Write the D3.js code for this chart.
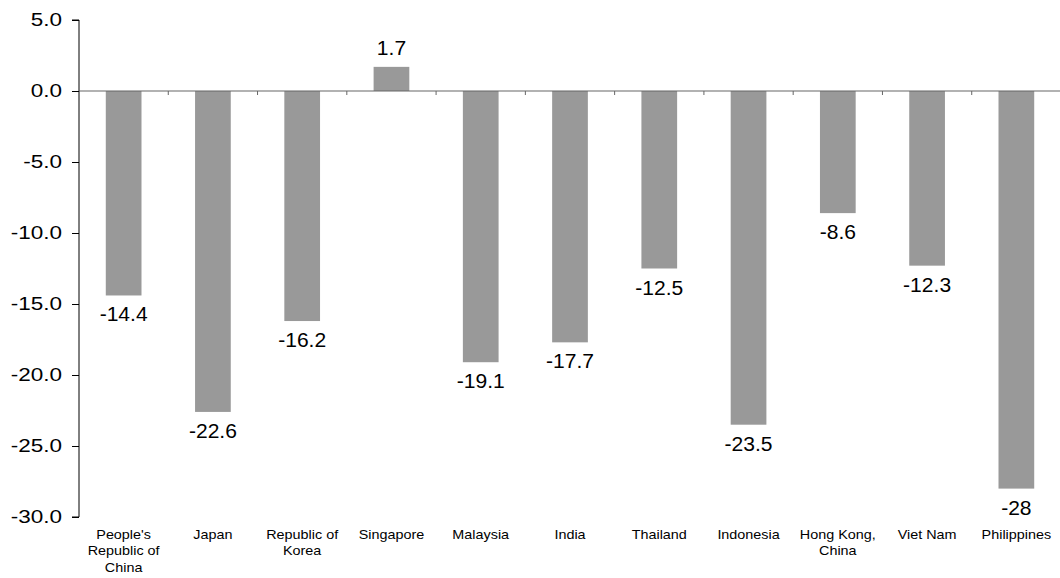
<!DOCTYPE html>
<html><head><meta charset="utf-8">
<script src="https://cdn.jsdelivr.net/npm/d3@7"></script>
<style>body{margin:0;background:#fff}svg{display:block}text{font-family:"Liberation Sans",Arial,sans-serif}</style>
</head><body>
<svg id="c" width="1060" height="578"></svg>
<script>
const categories = [["People's","Republic of","China"],["Japan"],["Republic of","Korea"],["Singapore"],["Malaysia"],["India"],["Thailand"],["Indonesia"],["Hong Kong,","China"],["Viet Nam"],["Philippines"]];
const values = [-14.4,-22.6,-16.2,1.7,-19.1,-17.7,-12.5,-23.5,-8.6,-12.3,-28];
const valueLabels = ["-14.4","-22.6","-16.2","1.7","-19.1","-17.7","-12.5","-23.5","-8.6","-12.3","-28"];
const yTicks = [5,0,-5,-10,-15,-20,-25,-30];
const yTickLabels = ["5.0","0.0","-5.0","-10.0","-15.0","-20.0","-25.0","-30.0"];

(function(){
const svg = d3.select("#c");
const mL = 79, mR = 1061, mT = 20, mB = 517;
const names = categories.map(c=>c.join(" "));
const x = d3.scaleBand().domain(names).range([mL,mR]).paddingInner(0.6).paddingOuter(0.3);
const xs = d3.scaleBand().domain(names).range([mL,mR]);
const y = d3.scaleLinear().domain([-30,5]).range([mB,mT]);

svg.selectAll("rect.bar").data(values).join("rect")
  .attr("x",(d,i)=>x(names[i])).attr("width",x.bandwidth())
  .attr("y",d=>y(Math.max(0,d))).attr("height",d=>Math.abs(y(d)-y(0)))
  .attr("fill","#999999");

const ya = svg.append("g").attr("transform",`translate(${mL},0)`)
  .call(d3.axisLeft(y).tickValues(yTicks).tickFormat((d,i)=>yTickLabels[i]).tickSize(7).tickPadding(10));
ya.select(".domain").attr("stroke","#000").attr("d",`M-7,${y(5)}H0V${y(-30)}H-7`);
ya.selectAll(".tick line").attr("stroke","#000");
ya.selectAll(".tick text").attr("font-size",18).attr("fill","#000")
  .attr("font-family","Liberation Sans, Arial, sans-serif")
  .attr("x",0).attr("transform","translate(-17,0) scale(1.25,1)");

svg.append("line").attr("x1",mL).attr("x2",1060).attr("y1",y(0)).attr("y2",y(0)).attr("stroke","#666").attr("stroke-width",1.2);
svg.selectAll("line.xt").data(names.slice(1)).join("line")
  .attr("x1",d=>xs(d)).attr("x2",d=>xs(d)).attr("y1",y(0)).attr("y2",y(0)+4).attr("stroke","#666");

svg.selectAll("text.val").data(values).join("text")
  .attr("transform",(d,i)=>`translate(${x(names[i])+x.bandwidth()/2},${d>=0? y(d)-12 : y(d)+26}) scale(1.08,1)`)
  .attr("text-anchor","middle").attr("font-size",19.5).attr("fill","#000")
  .text((d,i)=>valueLabels[i]);

const cg = svg.selectAll("text.cat").data(categories).join("g")
  .attr("transform",(d,i)=>`translate(${x(names[i])+x.bandwidth()/2},539) scale(1.15,1)`)
  .append("text").attr("text-anchor","middle").attr("font-size",12.5).attr("fill","#000");
cg.selectAll("tspan").data(d=>d).join("tspan")
  .attr("x",0).attr("dy",(d,j)=>j===0?0:16.5).text(d=>d);
})();
</script>
</body></html>
